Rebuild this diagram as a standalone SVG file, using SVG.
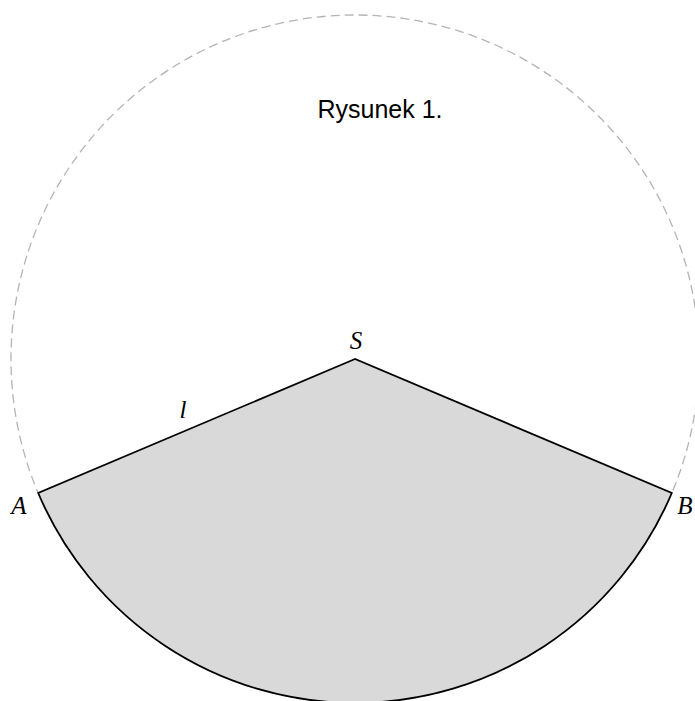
<svg xmlns="http://www.w3.org/2000/svg" width="695" height="701" viewBox="0 0 695 701">
<style>
.lbl{font-family:"Liberation Serif","DejaVu Serif",serif;font-style:italic;font-size:25px;fill:#000;text-anchor:middle}
.title{font-family:"Liberation Sans",Arial,sans-serif;font-size:25px;fill:#000;text-anchor:middle}
</style>
<rect width="695" height="701" fill="#fff"/>
<g id="circle">
<circle cx="355" cy="359" r="344" fill="none" stroke="#b4b4b4" stroke-width="1.3" stroke-dasharray="9,5"/>
</g>
<g id="sector">
<path d="M355,359 L38.2,493 A344,344 0 0 0 671.8,493 Z" fill="#d9d9d9" stroke="#000" stroke-width="1.8" stroke-linejoin="miter"/>
</g>
<g id="labels">
<text class="title" x="380" y="118">Rysunek 1.</text>
<text class="lbl" x="356" y="349">S</text>
<text class="lbl" x="19" y="514">A</text>
<text class="lbl" x="685" y="514">B</text>
<text class="lbl" x="183" y="418">l</text>
</g>
</svg>
